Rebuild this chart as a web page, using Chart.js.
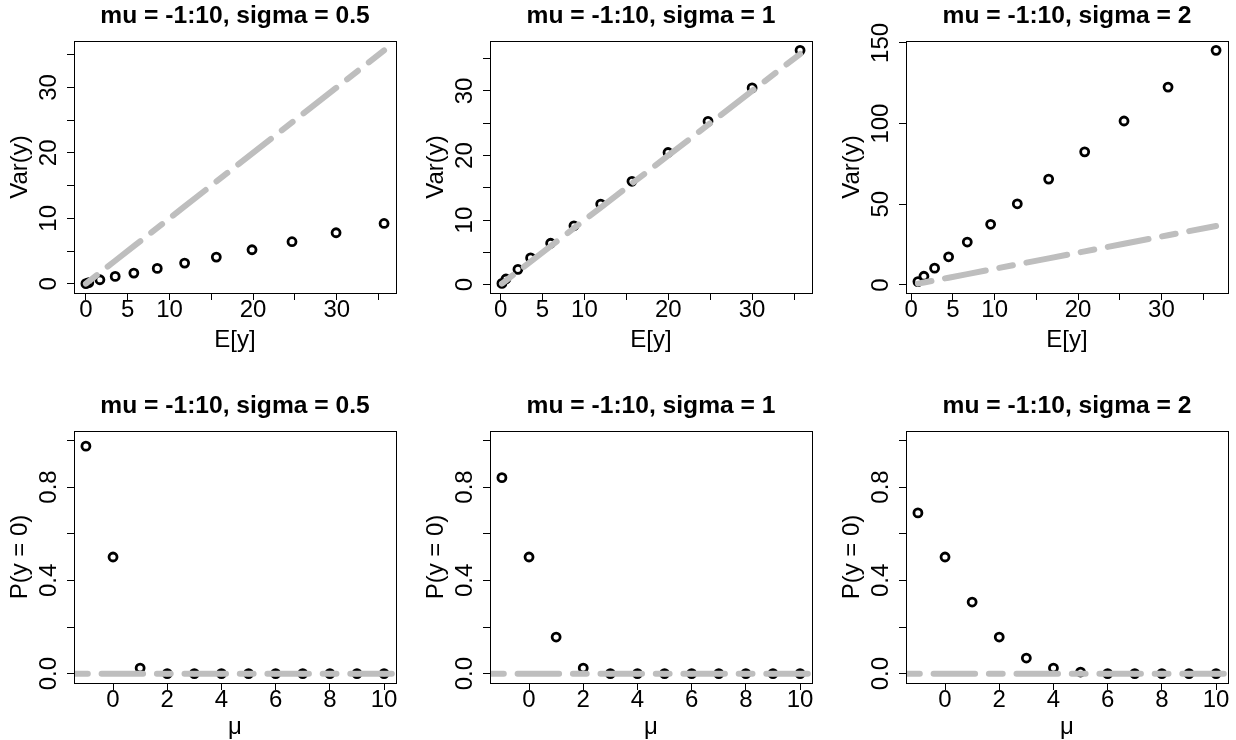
<!DOCTYPE html>
<html>
<head>
<meta charset="utf-8">
<script src="https://cdn.jsdelivr.net/npm/chart.js@4.4.1/dist/chart.umd.min.js"></script>
<style>
  html, body { margin: 0; padding: 0; background: #fff; }
  #wrap { position: relative; width: 1236px; height: 740px; overflow: hidden; }
  #wrap canvas { position: absolute; }
</style>
</head>
<body>
<div id="wrap"></div>
<script>
// mu = -1:10 in every panel
const mu = [-1, 0, 1, 2, 3, 4, 5, 6, 7, 8, 9, 10];
const sigmas = ['0.5', '1', '2'];

// top row: E[y] and Var(y)
const meanS05 = [0.01, 0.35, 1.68, 3.51, 5.74, 8.54, 11.81, 15.60, 19.87, 24.65, 29.92, 35.66];
const varS05  = [0.01, 0.16, 0.61, 1.12, 1.63, 2.34, 3.15, 4.07, 5.19, 6.42, 7.79, 9.21];
const meanS1  = [0.16, 0.64, 2.07, 3.58, 5.97, 8.75, 11.94, 15.67, 19.97, 24.74, 30.0, 35.72];
const varS1   = [0.20, 0.88, 2.38, 4.15, 6.42, 9.12, 12.49, 16.01, 20.47, 25.29, 30.47, 36.29];
const meanS2  = [0.80, 1.52, 2.80, 4.48, 6.72, 9.52, 12.72, 16.48, 20.80, 25.52, 30.80, 36.56];
const varS2   = [2.08, 5.40, 10.40, 17.45, 26.60, 37.60, 50.30, 65.60, 82.50, 101.60, 122.60, 145.40];

// bottom row: P(y = 0)
const p0S05 = [0.975, 0.50, 0.024, 0, 0, 0, 0, 0, 0, 0, 0, 0];
const p0S1  = [0.840, 0.50, 0.157, 0.024, 0, 0, 0, 0, 0, 0, 0, 0];
const p0S2  = [0.689, 0.50, 0.307, 0.157, 0.067, 0.024, 0.007, 0, 0, 0, 0, 0];

// ticks
const ticksBy5    = [0, 5, 10, 15, 20, 25, 30, 35];
const labelsMeanX = [0, 5, 10, 20, 30];
const labelsVarY  = [0, 10, 20, 30];
const ticksVarS2  = [0, 50, 100, 150];
const ticksMu     = [0, 2, 4, 6, 8, 10];
const ticksProb   = [0, 0.2, 0.4, 0.6, 0.8, 1.0];
const labelsProb  = [0, 0.4, 0.8];

// R style axis limits: data range widened by 4% each side
function rlim(vals) {
  const lo = Math.min(...vals), hi = Math.max(...vals), d = (hi - lo) * 0.04;
  return [lo - d, hi + d];
}

const FAMILY = '"Liberation Sans", Arial, Helvetica, sans-serif';
const CELL_W = 412, CELL_H = 370;
const boxLeft = [74, 78, 82], boxRight = [396, 400, 404];
const boxTop = [41, 61], boxBottom = [293, 313];

const rFrame = {
  id: 'rFrame',
  afterDraw(chart, args, opts) {
    const { ctx, chartArea: a } = chart;
    const ys = chart.scales.y;
    ctx.save();
    ctx.strokeStyle = '#000';
    ctx.lineWidth = 1;
    ctx.strokeRect(a.left + 0.5, a.top + 0.5, a.right - a.left, a.bottom - a.top);
    ctx.fillStyle = '#000';
    ctx.font = '24px ' + FAMILY;
    ctx.textAlign = 'center';
    ctx.textBaseline = 'alphabetic';
    opts.yShown.forEach(v => {
      ctx.save();
      ctx.translate(a.left - 18, ys.getPixelForValue(v));
      ctx.rotate(-Math.PI / 2);
      ctx.fillText(opts.yFmt(v), 0, 0);
      ctx.restore();
    });
    ctx.font = 'bold 24.6px ' + FAMILY;
    ctx.fillText(opts.title, (a.left + a.right) / 2, a.top - 18.5);
    ctx.restore();
  }
};

const wrap = document.getElementById('wrap');

function makePanel(p) {
  const cv = document.createElement('canvas');
  cv.width = CELL_W; cv.height = CELL_H;
  cv.style.width = CELL_W + 'px'; cv.style.height = CELL_H + 'px';
  cv.style.left = (p.col * CELL_W) + 'px';
  cv.style.top = (p.row * CELL_H) + 'px';
  wrap.appendChild(cv);

  const L = boxLeft[p.col], R = boxRight[p.col], T = boxTop[p.row], B = boxBottom[p.row];

  new Chart(cv, {
    type: 'scatter',
    data: {
      datasets: [
        {
          data: p.line, showLine: true, pointRadius: 0, borderColor: '#BEBEBE',
          borderWidth: 6, borderDash: [13.8, 13.8, 41.5, 13.8], borderCapStyle: 'round',
          clip: 0, order: 0
        },
        {
          data: p.points, pointRadius: 4.0, pointBorderWidth: 2.8, borderWidth: 2.8,
          borderColor: '#000', backgroundColor: 'rgba(0,0,0,0)', pointStyle: 'circle', order: 1
        }
      ]
    },
    options: {
      responsive: false, animation: false, events: [], devicePixelRatio: 1,
      layout: { padding: { left: 0, top: T, right: CELL_W - R, bottom: 0 } },
      plugins: {
        legend: { display: false }, tooltip: { enabled: false },
        rFrame: { title: p.title, yShown: p.yShown, yFmt: p.yFmt }
      },
      scales: {
        x: {
          type: 'linear', position: 'bottom', min: p.xlim[0], max: p.xlim[1],
          afterBuildTicks: s => { s.ticks = p.xTicks.map(v => ({ value: v })); },
          afterFit: s => { s.height = CELL_H - B; },
          ticks: {
            autoSkip: false, maxRotation: 0, minRotation: 0, color: '#000', padding: -2,
            font: { family: FAMILY, size: 24, lineHeight: 1 },
            callback: v => p.xShown.includes(v) ? String(v) : ''
          },
          grid: { drawOnChartArea: false, drawTicks: true, tickLength: 7, color: '#000', lineWidth: 1 },
          border: { display: false },
          title: {
            display: true, text: p.xLabel, color: '#000',
            font: { family: FAMILY, size: 24, lineHeight: 1 },
            padding: { top: 0, bottom: p.row ? 0.3 : 17.3 }
          }
        },
        y: {
          type: 'linear', position: 'left', min: p.ylim[0], max: p.ylim[1],
          afterBuildTicks: s => { s.ticks = p.yTicks.map(v => ({ value: v })); },
          afterFit: s => { s.width = L; },
          ticks: { display: false },
          grid: { drawOnChartArea: false, drawTicks: true, tickLength: 7, color: '#000', lineWidth: 1 },
          border: { display: false },
          title: {
            display: true, text: p.yLabel, color: '#000',
            font: { family: FAMILY, size: 24, lineHeight: 1 },
            padding: { top: L - 65.8, bottom: 0 }
          }
        }
      }
    },
    plugins: [rFrame]
  });
}

const means = [meanS05, meanS1, meanS2];
const vars = [varS05, varS1, varS2];
const probs = [p0S05, p0S1, p0S2];

// top row: Var(y) against E[y], with the line Var = E through the means
for (let i = 0; i < 3; i++) {
  const m = means[i], v = vars[i];
  makePanel({
    row: 0, col: i,
    title: 'mu = -1:10, sigma = ' + sigmas[i],
    xLabel: 'E[y]', yLabel: 'Var(y)',
    points: m.map((e, k) => ({ x: e, y: v[k] })),
    line: m.map(e => ({ x: e, y: e })),
    xlim: rlim(m), ylim: rlim(m.concat(v)),
    xTicks: ticksBy5, xShown: labelsMeanX,
    yTicks: i === 2 ? ticksVarS2 : ticksBy5,
    yShown: i === 2 ? ticksVarS2 : labelsVarY,
    yFmt: y => String(y)
  });
}

// bottom row: P(y = 0) against mu, with a flat line at zero
for (let i = 0; i < 3; i++) {
  const xl = rlim(mu);
  makePanel({
    row: 1, col: i,
    title: 'mu = -1:10, sigma = ' + sigmas[i],
    xLabel: 'μ', yLabel: 'P(y = 0)',
    points: mu.map((m, k) => ({ x: m, y: probs[i][k] })),
    line: [{ x: xl[0], y: 0 }, { x: xl[1], y: 0 }],
    xlim: xl, ylim: rlim([0, 1]),
    xTicks: ticksMu, xShown: ticksMu,
    yTicks: ticksProb, yShown: labelsProb,
    yFmt: y => y.toFixed(1)
  });
}
</script>
</body>
</html>
